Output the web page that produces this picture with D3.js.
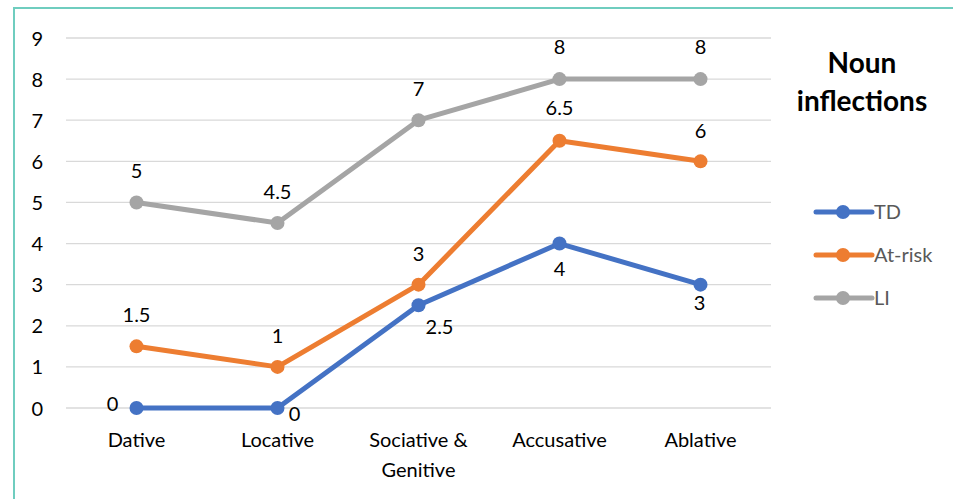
<!DOCTYPE html>
<html>
<head>
<meta charset="utf-8">
<script src="https://cdn.jsdelivr.net/npm/d3@7/dist/d3.min.js"></script>
<style>
  html, body { margin: 0; padding: 0; background: #fff; }
  svg { display: block; }
  text { font-family: Lato, "Open Sans", "Liberation Sans", sans-serif; }
</style>
</head>
<body>
<svg id="chart" width="953" height="499"></svg>
<script>
// Data
const categories = ["Dative", "Locative", "Sociative & Genitive", "Accusative", "Ablative"];
const seriesNames = ["TD", "At-risk", "LI"];
const tdValues = [0, 0, 2.5, 4, 3];
const atRiskValues = [1.5, 1, 3, 6.5, 6];
const liValues = [5, 4.5, 7, 8, 8];
const yTicks = [0, 1, 2, 3, 4, 5, 6, 7, 8, 9];
const titleLines = ["Noun", "inflections"];

// Styling / layout
const FONT = "Lato, 'Open Sans', sans-serif";
const colors = { "TD": "#4472c4", "At-risk": "#ed7d31", "LI": "#a5a5a5" };
// label offsets (dx, dy) relative to each point
const labelOffsets = {
  "TD": [[-24, -4], [17, 6], [21, 22], [0, 25], [-1, 18]],
  "At-risk": [[0, -31], [0, -31], [0, -31], [0, -33], [0, -30]],
  "LI": [[0, -31], [0, -31], [0, -31], [0, -32], [0, -32]]
};

const series = [
  { name: "TD", values: tdValues },
  { name: "At-risk", values: atRiskValues },
  { name: "LI", values: liValues }
];

const svg = d3.select("#chart");

// frame edges
svg.append("line").attr("x1", 13).attr("x2", 953).attr("y1", 8).attr("y2", 8)
  .attr("stroke", "#6fcdbf").attr("stroke-width", 2);
svg.append("line").attr("x1", 14).attr("x2", 14).attr("y1", 7).attr("y2", 499)
  .attr("stroke", "#6fcdbf").attr("stroke-width", 2);

const x = d3.scaleBand().domain(categories).range([66, 771]);
const y = d3.scaleLinear().domain([0, 9]).range([408, 38]);
const cx = c => x(c) + x.bandwidth() / 2;

// gridlines
svg.append("g").selectAll("line").data(yTicks).join("line")
  .attr("x1", 66).attr("x2", 771)
  .attr("y1", d => y(d)).attr("y2", d => y(d))
  .attr("stroke", "#d9d9d9").attr("stroke-width", 1.3);

// y axis labels
const yAxis = svg.append("g").attr("transform", "translate(43,0)")
  .call(d3.axisLeft(y).tickValues(yTicks).tickSize(0).tickPadding(0).tickFormat(d3.format("d")));
yAxis.select(".domain").remove();
yAxis.selectAll("text").attr("font-size", 20).attr("fill", "#000")
  .attr("font-family", FONT).attr("dy", "0.35em");

// x axis labels
const xAxis = svg.append("g").attr("transform", "translate(0,408)")
  .call(d3.axisBottom(x).tickSize(0).tickPadding(0).tickFormat(() => ""));
xAxis.select(".domain").remove();
xAxis.selectAll(".tick").each(function(d) {
  const g = d3.select(this);
  const words = d === "Sociative & Genitive" ? ["Sociative &", "Genitive"] : [d];
  words.forEach((w, i) => {
    g.append("text").text(w)
      .attr("y", 39 + i * 30).attr("text-anchor", "middle")
      .attr("font-size", 20).attr("fill", "#000")
      .attr("font-family", FONT);
  });
});

const line = d3.line().x((d, i) => cx(categories[i])).y(d => y(d));

// draw series so that TD ends up on top
[...series].reverse().forEach(s => {
  const g = svg.append("g");
  g.append("path").datum(s.values).attr("d", line)
    .attr("fill", "none").attr("stroke", colors[s.name])
    .attr("stroke-width", 5).attr("stroke-linejoin", "round");
  g.selectAll("circle").data(s.values).join("circle")
    .attr("cx", (d, i) => cx(categories[i])).attr("cy", d => y(d))
    .attr("r", 7).attr("fill", colors[s.name]);
});

// data labels
series.forEach(s => {
  svg.append("g").selectAll("text").data(s.values).join("text")
    .attr("x", (d, i) => cx(categories[i]) + labelOffsets[s.name][i][0])
    .attr("y", (d, i) => y(d) + labelOffsets[s.name][i][1])
    .attr("dy", "0.35em").attr("text-anchor", "middle")
    .attr("font-size", 20).attr("fill", "#000")
    .text(d => d);
});

// title
svg.append("g").selectAll("text").data(titleLines).join("text")
  .attr("x", 862).attr("y", (d, i) => 73 + i * 38)
  .attr("text-anchor", "middle")
  .attr("font-size", 28).attr("font-weight", "bold").attr("fill", "#000")
  .text(d => d);

// legend
const legend = svg.append("g").selectAll("g").data(seriesNames).join("g")
  .attr("transform", (d, i) => `translate(816,${212 + i * 43})`);
legend.append("line").attr("x1", 0).attr("x2", 56)
  .attr("stroke", d => colors[d]).attr("stroke-width", 5).attr("stroke-linecap", "round");
legend.append("circle").attr("cx", 27).attr("r", 7).attr("fill", d => colors[d]);
legend.append("text").attr("x", 58).attr("dy", "0.35em")
  .attr("font-size", 20).attr("fill", "#595959").text(d => d);
</script>
</body>
</html>
